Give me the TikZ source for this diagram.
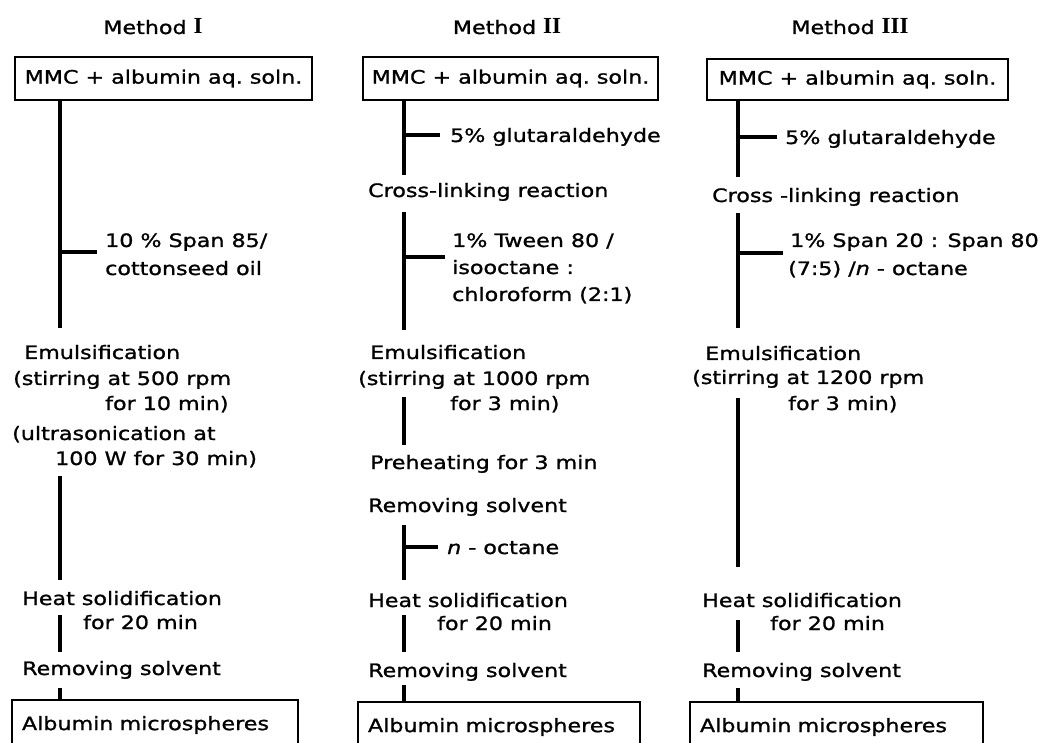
\documentclass[tikz,border=0pt]{standalone}
\usepackage{fontspec}
\setsansfont{DejaVu Sans}[FakeStretch=1.2,FakeBold=1.2]
\newfontfamily\numfont{Liberation Serif}
\newcommand\methnum[1]{{\numfont\bfseries\fontsize{23}{26}\selectfont #1}}
\begin{document}
\begin{tikzpicture}[x=1pt,y=-1pt,
	font=\sffamily\fontsize{18.5}{26}\selectfont,
	txt/.style={anchor=base west,inner sep=0pt},
	stepbox/.style={draw,line width=2.6pt,inner sep=0pt,minimum height=43pt},
	endbox/.style={stepbox,minimum height=50pt,align=left,text width=#1,inner xsep=10pt},
	flow/.style={line width=3.4pt}]
	\useasboundingbox (0,0) rectangle (1045,743);
	\clip (0,0) rectangle (1045,743);
	\coordinate (s1) at (60,0); \coordinate (s2) at (404,0); \coordinate (s3) at (738,0);
	% Method I
	\node[anchor=base] (title1) at (153,34) {Method \methnum{I}};
	\node[stepbox,minimum width=297pt] (mmc1) at (163.5,78.5) {MMC + albumin aq.\ soln.};
	\node[txt] (add1a) at (105,247) {10 \% Span 85/};
	\node[txt] (add1b) at (105,275) {cottonseed oil};
	\node[txt] (emu1) at (24,359) {Emulsification};
	\node[txt] (stir1) at (13,385) {(stirring at 500 rpm};
	\node[txt] (min1) at (105,410) {for 10 min)};
	\node[txt] (son1) at (12,440) {(ultrasonication at};
	\node[txt] (son1b) at (55,465) {100 W for 30 min)};
	\node[txt] (heat1) at (22,605) {Heat solidification};
	\node[txt] (heat1b) at (83,629) {for 20 min};
	\node[txt] (rem1) at (22,675) {Removing solvent};
	\node[endbox=266pt] (alb1) at (155,725) {Albumin microspheres};
	\coordinate (j1) at (60,252);
	\draw[flow,shorten >=17pt] (mmc1.south -| s1) -- (emu1.north -| s1);
	\draw[flow,shorten >=8pt] (j1) -- (j1 -| add1a.west);
	\draw[flow,shorten <=8pt,shorten >=11pt] (son1b.south -| s1) -- (heat1.north -| s1);
	\draw[flow,shorten <=10pt,shorten >=9pt] (heat1.south -| s1) -- (rem1.north -| s1);
	\draw[flow,shorten <=9pt] (rem1.south -| s1) -- (alb1.north -| s1);
	% Method II
	\node[anchor=base] (title2) at (507,34) {Method \methnum{II}};
	\node[stepbox,minimum width=295pt] (mmc2) at (510.5,78.5) {MMC + albumin aq.\ soln.};
	\node[txt] (glu2) at (450,142) {5\% glutaraldehyde};
	\node[txt] (cross2) at (368,197) {Cross-linking reaction};
	\node[txt] (tw2a) at (452,247) {1\% Tween 80 /};
	\node[txt] (tw2b) at (452,274) {isooctane :};
	\node[txt] (tw2c) at (452,301) {chloroform (2:1)};
	\node[txt] (emu2) at (370,359) {Emulsification};
	\node[txt] (stir2) at (358,385) {(stirring at 1000 rpm};
	\node[txt] (min2) at (450,410) {for 3 min)};
	\node[txt] (pre2) at (370,469) {Preheating for 3 min};
	\node[txt] (rem2a) at (368,512) {Removing solvent};
	\node[txt] (oct2) at (447,554) {\textit{n} - octane};
	\node[txt] (heat2) at (368,607) {Heat solidification};
	\node[txt] (heat2b) at (437,630) {for 20 min};
	\node[txt] (rem2) at (368,677) {Removing solvent};
	\node[endbox=262pt] (alb2) at (499,727) {Albumin microspheres};
	\coordinate (j2a) at (404,135); \coordinate (j2b) at (404,257); \coordinate (j2c) at (404,547);
	\draw[flow,shorten >=8pt] (mmc2.south -| s2) -- (cross2.north -| s2);
	\draw[flow,shorten >=10pt] (j2a) -- (j2a -| glu2.west);
	\draw[flow,shorten <=11pt,shorten >=15pt] (cross2.south -| s2) -- (emu2.north -| s2);
	\draw[flow,shorten >=7pt] (j2b) -- (j2b -| tw2a.west);
	\draw[flow,shorten <=8pt,shorten >=10pt] (stir2.south -| s2) -- (pre2.north -| s2);
	\draw[flow,shorten <=9pt,shorten >=13pt] (rem2a.south -| s2) -- (heat2.north -| s2);
	\draw[flow,shorten >=9pt] (j2c) -- (j2c -| oct2.west);
	\draw[flow,shorten <=8pt,shorten >=11pt] (heat2.south -| s2) -- (rem2.north -| s2);
	\draw[flow,shorten <=4pt] (rem2.south -| s2) -- (alb2.north -| s2);
	% Method III
	\node[anchor=base] (title3) at (850,34) {Method \methnum{III}};
	\node[stepbox,minimum width=301pt,minimum height=41pt] (mmc3) at (857.5,79.5) {MMC + albumin aq.\ soln.};
	\node[txt] (glu3) at (785,144) {5\% glutaraldehyde};
	\node[txt] (cross3) at (712,202) {Cross -linking reaction};
	\node[txt] (sp3a) at (790,247) {1\% Span 20 : Span 80};
	\node[txt] (sp3b) at (788,275) {(7:5) /\textit{n} - octane};
	\node[txt] (emu3) at (705,360) {Emulsification};
	\node[txt] (stir3) at (692,384) {(stirring at 1200 rpm};
	\node[txt] (min3) at (788,410) {for 3 min)};
	\node[txt] (heat3) at (702,607) {Heat solidification};
	\node[txt] (heat3b) at (770,630) {for 20 min};
	\node[txt] (rem3) at (702,677) {Removing solvent};
	\node[endbox=273pt] (alb3) at (836.5,727) {Albumin microspheres};
	\coordinate (j3a) at (738,137); \coordinate (j3b) at (738,253);
	\draw[flow,shorten >=11pt] (mmc3.south -| s3) -- (cross3.north -| s3);
	\draw[flow,shorten >=8pt] (j3a) -- (j3a -| glu3.west);
	\draw[flow,shorten <=7pt,shorten >=18pt] (cross3.south -| s3) -- (emu3.north -| s3);
	\draw[flow,shorten >=7pt] (j3b) -- (j3b -| sp3a.west);
	\draw[flow,shorten <=10pt,shorten >=26pt] (stir3.south -| s3) -- (heat3.north -| s3);
	\draw[flow,shorten <=13pt,shorten >=11pt] (heat3.south -| s3) -- (rem3.north -| s3);
	\draw[flow,shorten <=7pt] (rem3.south -| s3) -- (alb3.north -| s3);
\end{tikzpicture}
\end{document}
